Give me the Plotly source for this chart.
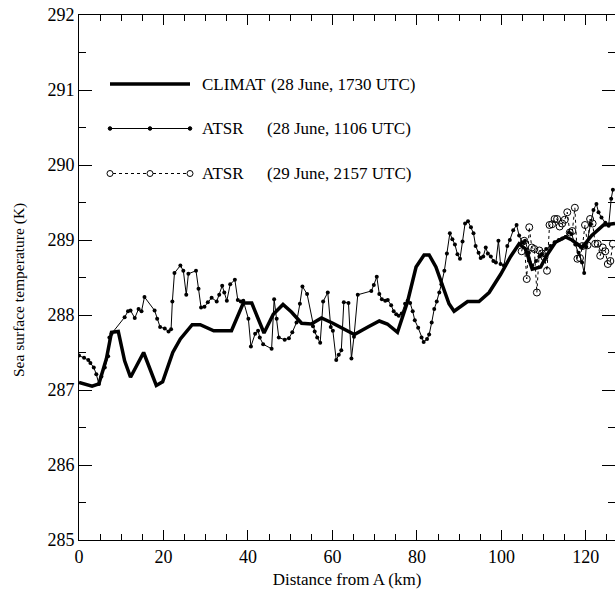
import plotly.graph_objects as go

# ---- data ----
climat_x = [0, 3.1, 4.7, 6.5, 7.7, 9.3, 10.8, 12.2, 15.3, 18.3, 19.8, 22.2, 24.0, 26.8, 28.7,
            31.9, 36.1, 38.9, 40.9, 43.8, 46.0, 48.3, 50.3, 52.7, 55.0, 57.4, 60.1, 65.2,
            68.4, 71.1, 73.0, 75.4, 77.8, 79.8, 81.7, 82.9, 84.5, 86.5, 87.6, 88.8, 92.0,
            94.7, 97.1, 99.8, 102.2, 104.2, 105.7, 107.3, 109.3, 110.8, 112.8, 115.2,
            116.7, 119.1, 121.4, 124.2, 126.9]
climat_t = [287.10, 287.05, 287.08, 287.42, 287.77, 287.78, 287.39, 287.17, 287.50, 287.06,
            287.11, 287.50, 287.68, 287.87, 287.87, 287.79, 287.79, 288.16, 288.16, 287.76,
            288.01, 288.14, 288.04, 287.89, 287.88, 287.96, 287.89, 287.74, 287.84, 287.92,
            287.88, 287.77, 288.18, 288.64, 288.80, 288.80, 288.64, 288.32, 288.15, 288.05,
            288.18, 288.18, 288.30, 288.54, 288.78, 288.95, 288.88, 288.61, 288.64, 288.80,
            288.97, 289.04, 289.00, 288.90, 289.06, 289.20, 289.22]

atsr1_x = [0.0, 1.2, 2.2, 2.7, 3.5, 4.1, 4.7, 5.3, 6.1, 6.9, 7.2, 7.7, 10.8, 11.6, 12.2,
           13.2, 14.1, 14.8, 15.5, 17.9, 18.5, 19.2, 20.3, 21.2, 21.8, 22.1, 22.6, 24.0,
           24.7, 25.4, 25.9, 27.7, 28.3, 28.9, 29.7, 30.5, 31.4, 32.6, 33.2, 33.9, 34.4,
           35.0, 35.8, 36.9, 37.6, 38.3, 38.9, 40.1, 40.7, 41.7, 42.4, 42.8, 43.6, 45.6,
           46.2, 46.8, 47.3, 48.7, 49.7, 50.5, 51.5, 52.3, 52.9, 54.0, 55.4, 55.8, 56.4,
           57.1, 57.8, 58.9, 59.6, 60.1, 60.9, 61.5, 62.1, 62.7, 63.8, 64.5, 65.1, 66.0,
           69.2, 69.8, 70.5, 71.1, 71.7, 72.5, 73.1, 73.9, 74.5, 75.1, 75.7, 76.4, 77.2,
           77.8, 78.4, 79.0, 79.5, 80.3, 81.1, 81.6, 82.4, 82.9, 83.5, 84.1, 84.7, 85.3,
           85.8, 86.5, 87.1, 87.8, 88.4, 89.0, 89.6, 90.2, 90.8, 91.4, 92.1, 92.8, 93.4,
           93.9, 94.6, 95.1, 95.7, 96.3, 96.8, 97.5, 98.1, 98.7, 99.3, 99.8, 100.6, 101.4,
           102.0, 102.8, 103.6, 104.2, 104.9, 105.6, 106.5, 107.3, 108.2, 109.0, 109.6,
           110.6, 111.6, 112.6, 113.6, 114.4, 115.2, 116.0, 116.6, 117.5, 118.3, 119.1,
           119.6, 120.1, 121.1, 121.8, 122.5, 123.0, 123.7, 124.6, 125.4, 126.0, 126.4]
atsr1_t = [287.46, 287.43, 287.40, 287.36, 287.30, 287.21, 287.08, 287.18, 287.30, 287.45,
           287.70, 287.75, 287.97, 288.05, 288.06, 287.96, 288.08, 288.05, 288.24, 288.06,
           287.95, 287.84, 287.82, 287.78, 287.81, 288.18, 288.56, 288.66, 288.59, 288.27,
           288.55, 288.59, 288.35, 288.10, 288.11, 288.17, 288.23, 288.18, 288.27, 288.39,
           288.30, 288.19, 288.41, 288.47, 288.20, 288.18, 288.19, 287.95, 287.58, 287.75,
           287.79, 287.70, 287.61, 287.55, 288.21, 287.95, 287.70, 287.67, 287.69, 287.77,
           287.90, 288.15, 288.38, 288.28, 287.85, 287.78, 287.70, 287.63, 288.18, 288.30,
           287.84, 287.79, 287.40, 287.47, 287.53, 288.17, 288.16, 287.42, 287.71, 288.27,
           288.32, 288.40, 288.51, 288.28, 288.21, 288.19, 288.20, 288.13, 288.05, 288.01,
           287.99, 288.02, 288.15, 288.19, 288.16, 288.05, 287.93, 287.83, 287.70, 287.64,
           287.68, 287.74, 287.90, 288.08, 288.18, 288.30, 288.41, 288.59, 288.82, 289.09,
           289.01, 288.94, 288.81, 288.75, 288.98, 289.22, 289.25, 289.17, 289.09, 288.92,
           288.83, 288.76, 288.78, 288.90, 288.82, 288.78, 288.72, 288.70, 288.99, 288.68,
           288.66, 288.92, 289.00, 289.13, 289.20, 289.06, 288.97, 288.99, 288.83, 288.66,
           288.72, 288.78, 288.81, 288.88, 288.92, 288.97, 289.00, 289.02, 289.04, 289.10,
           289.08, 288.94, 288.83, 288.70, 288.56, 288.91, 289.21, 289.40, 289.48, 289.37,
           289.30, 289.23, 289.19, 289.55, 289.67]

atsr2_x = [104.8, 105.4, 106.0, 106.6, 107.2, 107.8, 108.4, 109.0, 109.6, 110.2, 110.8,
           111.4, 112.0, 112.6, 113.2, 113.8, 114.4, 115.0, 115.6, 116.2, 116.8, 117.4,
           118.0, 118.6, 119.2, 119.8, 120.4, 121.0, 121.6, 122.2, 122.8, 123.4, 124.0,
           124.6, 125.2, 125.8, 126.4]
atsr2_t = [288.85, 288.99, 288.48, 289.17, 288.90, 288.88, 288.30, 288.86, 288.82, 288.77,
           288.59, 289.20, 289.21, 289.28, 289.28, 289.18, 289.22, 289.27, 289.37, 289.10,
           289.12, 289.43, 288.75, 288.76, 288.92, 289.20, 288.93, 289.28, 289.22, 288.95,
           288.95, 288.79, 288.90, 288.85, 288.68, 288.72, 288.95]

legend_labels = ["CLIMAT", "ATSR", "ATSR"]
legend_times = ["(28 June, 1730 UTC)", "(28 June, 1106 UTC)", "(29 June, 2157 UTC)"]

x_ticks = [0, 20, 40, 60, 80, 100, 120]
y_ticks = [285, 286, 287, 288, 289, 290, 291, 292]

FONT = "'Liberation Serif', 'Times New Roman', Times, 'DejaVu Serif', serif"
W, H = 615, 594
L, R, T, B = 79, 0, 15, 54

fig = go.Figure()
fig.add_trace(go.Scatter(x=climat_x, y=climat_t, mode="lines",
                         line=dict(color="black", width=3.5), showlegend=False))
fig.add_trace(go.Scatter(x=atsr1_x, y=atsr1_t, mode="lines+markers",
                         line=dict(color="black", width=1),
                         marker=dict(color="black", size=4), showlegend=False))
fig.add_trace(go.Scatter(x=atsr2_x, y=atsr2_t, mode="lines+markers",
                         line=dict(color="black", width=1, dash="dot"),
                         marker=dict(symbol="circle-open", color="black", size=7,
                                     line=dict(width=1)), showlegend=False))

# ---- hand-built legend (pixel positions converted to paper) ----
pw, ph = W - L - R, H - T - B
def px(xp):
    return (xp - L) / pw
def py(yp):
    return (H - B - yp) / ph

rows_y = [84, 128.5, 173.5]
shapes = []
annotations = []
for i, yy in enumerate(rows_y):
    if i == 0:
        shapes.append(dict(type="line", xref="paper", yref="paper", x0=px(110), x1=px(190),
                           y0=py(yy), y1=py(yy), line=dict(color="black", width=3.5)))
    elif i == 1:
        shapes.append(dict(type="line", xref="paper", yref="paper", x0=px(110), x1=px(190),
                           y0=py(yy), y1=py(yy), line=dict(color="black", width=1)))
        for cx in (110, 150, 190):
            shapes.append(dict(type="circle", xref="paper", yref="paper",
                               x0=px(cx - 1.8), x1=px(cx + 1.8), y0=py(yy + 1.8), y1=py(yy - 1.8),
                               fillcolor="black", line=dict(color="black", width=1)))
    else:
        for a, b in ((113, 147), (153, 187)):
            shapes.append(dict(type="line", xref="paper", yref="paper", x0=px(a), x1=px(b),
                               y0=py(yy), y1=py(yy), line=dict(color="black", width=1, dash="dot")))
        for cx in (110, 150, 190):
            shapes.append(dict(type="circle", xref="paper", yref="paper",
                               x0=px(cx - 3), x1=px(cx + 3), y0=py(yy + 3), y1=py(yy - 3),
                               fillcolor="white", line=dict(color="black", width=1)))
    annotations.append(dict(xref="paper", yref="paper", x=px(200), y=py(yy), text=legend_labels[i],
                            showarrow=False, xanchor="left", yanchor="middle",
                            font=dict(family=FONT, size=17, color="black")))
    annotations.append(dict(xref="paper", yref="paper", x=px(269 if i == 0 else 265), y=py(yy),
                            text=legend_times[i], showarrow=False, xanchor="left", yanchor="middle",
                            font=dict(family=FONT, size=17, color="black")))

# y-axis title as rotated annotation
annotations.append(dict(xref="paper", yref="paper", x=px(19), y=py(290),
                        text="Sea surface temperature (K)", textangle=-90, showarrow=False,
                        xanchor="center", yanchor="middle",
                        font=dict(family=FONT, size=15.5, color="black")))

axis_common = dict(showgrid=False, zeroline=False, showline=True, linecolor="black", linewidth=1,
                   mirror="ticks", ticks="inside", tickcolor="black", tickwidth=1,
                   tickfont=dict(family=FONT, size=18, color="black"))

fig.update_layout(
    width=W, height=H,
    margin=dict(l=L, r=R, t=T, b=B, pad=0),
    paper_bgcolor="white", plot_bgcolor="white",
    font=dict(family=FONT, color="black"),
    shapes=shapes, annotations=annotations,
    xaxis=dict(range=[0, 126.9], tickvals=x_ticks, ticklen=10,
               minor=dict(dtick=5, tick0=0, ticklen=6, ticks="inside", tickcolor="black"),
               title=dict(text="Distance from A (km)", standoff=7,
                          font=dict(family=FONT, size=17, color="black")),
               **axis_common),
    yaxis=dict(range=[285, 292], tickvals=y_ticks, ticklen=13,
               minor=dict(dtick=0.5, tick0=285, ticklen=7, ticks="inside", tickcolor="black"),
               **axis_common),
)

fig.write_html("out.html")
